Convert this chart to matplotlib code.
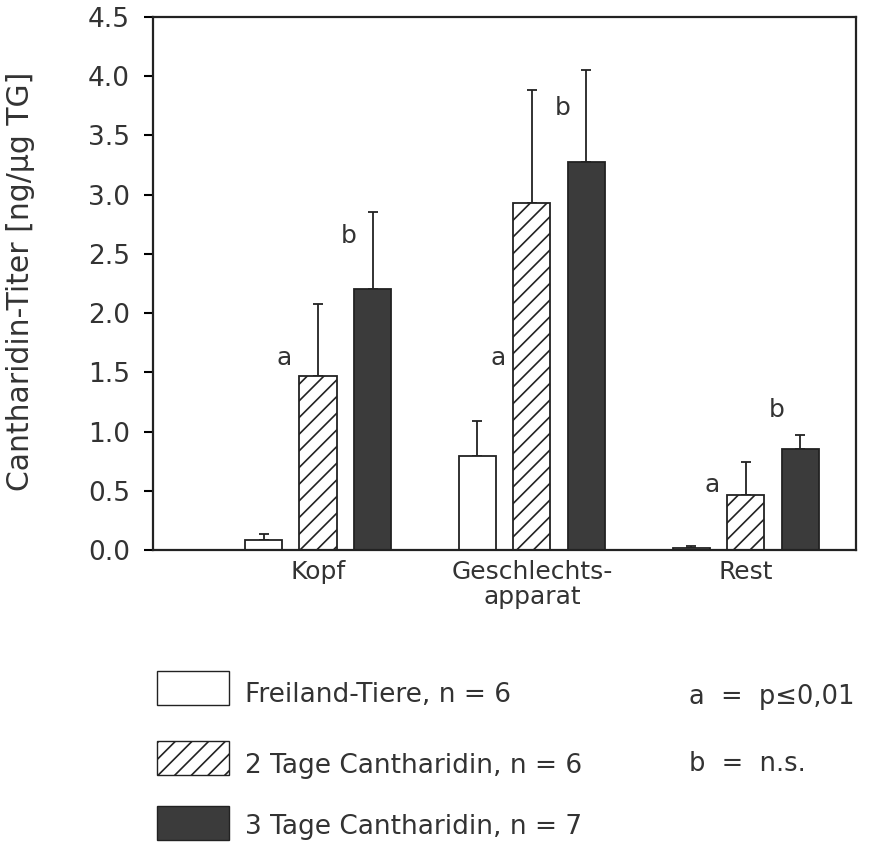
import matplotlib.pyplot as plt
from matplotlib.patches import Rectangle
import numpy as np

plt.rcParams['font.family'] = ['DejaVu Sans']
plt.rcParams['hatch.linewidth'] = 1.2

# data
categories = ["Kopf", "Geschlechts-\napparat", "Rest"]
series = ["Freiland-Tiere, n = 6", "2 Tage Cantharidin, n = 6", "3 Tage Cantharidin, n = 7"]
freiland = [0.085, 0.79, 0.015]
freiland_sd = [0.05, 0.30, 0.02]
tage2 = [1.47, 2.93, 0.46]
tage2_sd = [0.61, 0.95, 0.28]
tage3 = [2.20, 3.28, 0.85]
tage3_sd = [0.65, 0.77, 0.12]
# significance letters: (category, series index, letter, y)
letters = [(0, 1, "a", 1.62), (0, 2, "b", 2.65),
           (1, 1, "a", 1.62), (1, 2, "b", 3.73),
           (2, 1, "a", 0.55), (2, 2, "b", 1.18)]

txt_col = "#333333"
dark = "#3b3b3b"
fig = plt.figure(figsize=(8.71, 8.43), dpi=100)
ax = fig.add_axes([0.1757, 0.3476, 0.807, 0.6322])

x = np.arange(len(categories))
step = 0.2547
width = 0.173
styles = [dict(color="white", hatch=None), dict(color="white", hatch="//"), dict(color=dark, hatch=None)]
vals = [freiland, tage2, tage3]
errs = [freiland_sd, tage2_sd, tage3_sd]
for i in range(3):
    pos = x + (i - 1) * step
    ax.bar(pos, vals[i], width, color=styles[i]["color"], hatch=styles[i]["hatch"],
           edgecolor="#222222", linewidth=1.3, zorder=2)
    ax.errorbar(pos, vals[i], yerr=[np.zeros(3), errs[i]], fmt="none", ecolor="#222222",
                elinewidth=1.3, capsize=3.5, capthick=1.3, zorder=1)

for c, s, t, y in letters:
    off = -0.16 if t == "a" else -0.11
    ax.text(c + (s - 1) * step + off, y, t, ha="center", va="center", fontsize=18, color=txt_col)

ax.set_xlim(-0.771, 2.514)
ax.set_ylim(0, 4.5)
ticks = np.arange(0, 4.51, 0.5)
ax.set_yticks(ticks)
ax.set_yticklabels([f"{v:.1f}" for v in ticks], fontsize=19, color=txt_col)
ax.set_xticks(x)
ax.set_xticklabels(categories, fontsize=18, color=txt_col, linespacing=1.05)
ax.tick_params(axis="x", length=0, pad=7)
ax.tick_params(axis="y", length=6.5, width=1.5, direction="out", pad=10)
for sp in ax.spines.values():
    sp.set_linewidth(1.6)
    sp.set_color("#222222")

W, H = 871, 843
fig.text(21 / W, 1 - 281 / H, "Cantharidin-Titer [ng/µg TG]", rotation=90, ha="center", va="center",
         fontsize=21.5, color=txt_col)

# legend drawn below the axes
box_y = [688, 758, 823]
base_y = [702, 773, 834]
for i in range(3):
    fig.add_artist(Rectangle((157 / W, 1 - (box_y[i] + 17) / H), 72 / W, 34 / H, transform=fig.transFigure,
                             facecolor=styles[i]["color"], hatch=styles[i]["hatch"],
                             edgecolor="#222222", linewidth=1.0))
    fig.text(245 / W, 1 - base_y[i] / H, series[i], fontsize=19, va="baseline", ha="left", color=txt_col)
fig.text(689 / W, 1 - 704 / H, "a  =  p\u22640,01", fontsize=18.5, va="baseline", ha="left", color=txt_col)
fig.text(689 / W, 1 - 771 / H, "b  =  n.s.", fontsize=18.5, va="baseline", ha="left", color=txt_col)

fig.savefig("out.png", dpi=100)
